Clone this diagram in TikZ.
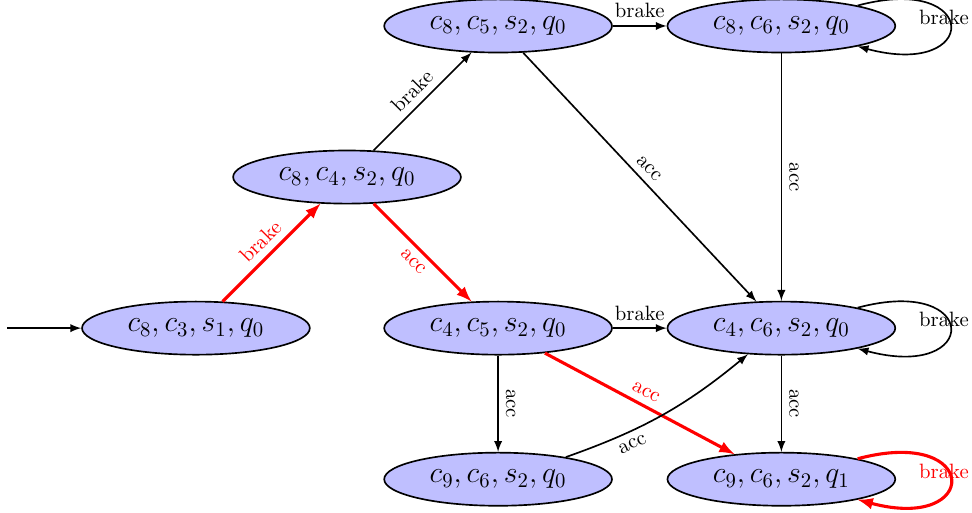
\documentclass[tikz,border=0pt]{standalone}
\usepackage{amsmath}
\usepackage{amssymb}
\usepackage{tikz}
\usepackage{xcolor}
\usetikzlibrary{shapes.geometric, arrows.meta}

\begin{document}
\begin{tikzpicture}[
    >=latex,
    state/.style={ellipse, draw, thick, fill=blue!25, inner sep=2pt,
                  minimum width=3.86cm, minimum height=0.9cm, font=\Large},
    trans/.style={->, thick},
    hot/.style={->, red, line width=1.5pt},
    lbl/.style={sloped, above, font=\normalsize},
    looplbl/.style={anchor=center, xshift=-3pt, yshift=4pt, font=\normalsize}
]

    % --- Parameters ---
    \def\dx{2.56}   % grid step
    \def\xR{9.92}   % x of the right column

    \useasboundingbox (-3.32,-3.12) rectangle (13.15,5.56);

    % --- 1. States ---
    \node[state] (s83) at (0,0)             {$c_8, c_3, s_1, q_0$};
    \node[state] (s84) at (\dx,\dx)         {$c_8, c_4, s_2, q_0$};
    \node[state] (s85) at (2*\dx,2*\dx)     {$c_8, c_5, s_2, q_0$};
    \node[state] (s86) at (\xR,2*\dx)       {$c_8, c_6, s_2, q_0$};
    \node[state] (s45) at (2*\dx,0)         {$c_4, c_5, s_2, q_0$};
    \node[state] (s46) at (\xR,0)           {$c_4, c_6, s_2, q_0$};
    \node[state] (s96) at (2*\dx,-\dx)      {$c_9, c_6, s_2, q_0$};
    \node[state] (s96q) at (\xR,-\dx)       {$c_9, c_6, s_2, q_1$};

    % --- 2. Initial arrow ---
    \coordinate (init) at (-3.2,0);
    \draw[trans] (init) -- (s83);

    % --- 3. Red run ---
    \draw[hot] (s83) -- node[lbl] {brake} (s84);
    \draw[hot] (s84) -- node[lbl, below] {acc} (s45);
    \draw[hot] (s45) -- node[lbl] {acc} (s96q);
    \draw[hot] (s96q) to[loop right] node[looplbl] {brake} (s96q);

    % --- 4. Other transitions ---
    \draw[trans] (s84) -- node[lbl] {brake} (s85);
    \draw[trans] (s85) -- node[lbl] {brake} (s86);
    \draw[trans] (s85) -- node[lbl] {acc} (s46);
    \draw[trans] (s86) -- node[lbl] {acc} (s46);
    \draw[trans] (s86) to[loop right] node[looplbl] {brake} (s86);
    \draw[trans] (s45) -- node[lbl] {brake} (s46);
    \draw[trans] (s45) -- node[lbl] {acc} (s96);
    \draw[trans] (s46) -- node[lbl] {acc} (s96q);
    \draw[trans] (s46) to[loop right] node[looplbl] {brake} (s46);
    \draw[trans] (s96) to[bend right=10] node[lbl, below, pos=0.3] {acc} (s46);

\end{tikzpicture}
\end{document}
